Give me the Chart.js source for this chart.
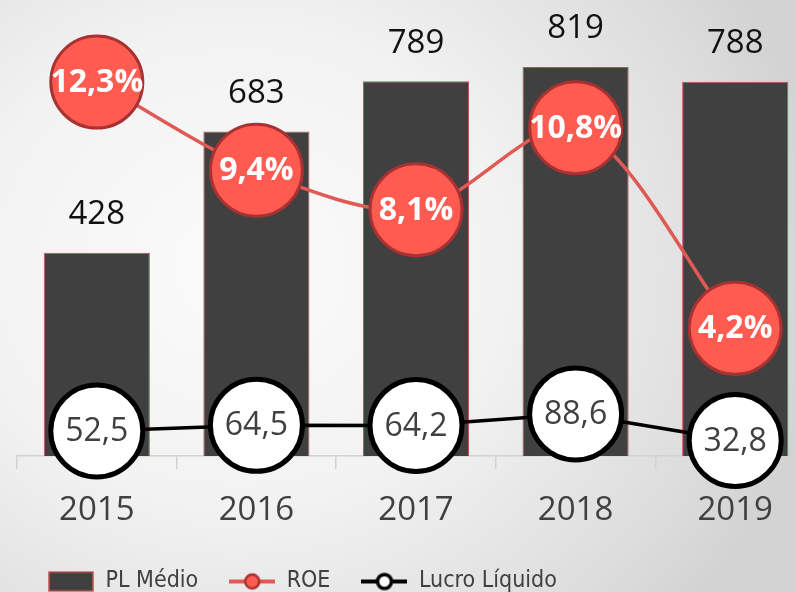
<!DOCTYPE html>
<html>
<head>
<meta charset="utf-8">
<script src="https://cdn.jsdelivr.net/npm/chart.js@4"></script>
<style>
  html, body { margin: 0; padding: 0; width: 795px; height: 592px; overflow: hidden; }
  body { background: radial-gradient(ellipse 75% 90% at 30% 45%, #fbfbfb 0%, #f2f2f2 45%, #dcdcdc 85%, #d2d2d2 100%); }
  #wrap { position: absolute; left: 0; top: 0; width: 830px; height: 603px; }
</style>
</head>
<body>
<div id="wrap"><canvas id="chart"></canvas></div>
<script>
// ========== data ==========
const years = ['2015', '2016', '2017', '2018', '2019']
const plMedio = [428, 683, 789, 819, 788]
const roe = [12.3, 9.4, 8.1, 10.8, 4.2]
const lucroLiquido = [52.5, 64.5, 64.2, 88.6, 32.8]

const fontMain = "'Open Sans', 'Noto Sans', sans-serif"
const fontLegend = "'Liberation Sans Narrow', 'DejaVu Sans Condensed', 'Open Sans', sans-serif"

// ========== legend icons ==========
function makeIcon(kind){
    const c = document.createElement('canvas')
    c.width = 46
    c.height = 22
    const g = c.getContext('2d')
    if (kind === 'bar') {
        g.fillStyle = '#404040'
        g.fillRect(1, 1.5, 44, 19)
        g.strokeStyle = '#c0504d'
        g.lineWidth = 1.5
        g.strokeRect(1, 1.5, 44, 19)
    } else {
        g.strokeStyle = kind === 'roe' ? '#e05a55' : '#000'
        g.lineWidth = 4
        g.beginPath(); g.moveTo(0, 11); g.lineTo(46, 11); g.stroke()
        g.beginPath(); g.arc(23, 11, 7, 0, Math.PI * 2)
        g.fillStyle = kind === 'roe' ? '#ff5b51' : '#fff'
        g.fill()
        g.lineWidth = kind === 'roe' ? 2.5 : 3.5
        g.strokeStyle = kind === 'roe' ? '#a83232' : '#000'
        g.stroke()
    }
    return c
}
const icons = [makeIcon('bar'), makeIcon('roe'), makeIcon('lucro')]

const fmt = (v, d) => v.toFixed(d).replace('.', ',')

// ========== labels plugin ==========
const labelsPlugin = {
    id: 'labels',
    afterDatasetDraw(chart, args) {
        const ctx = chart.ctx
        const meta = args.meta
        if (meta.type !== 'bar') return
        ctx.save()
        ctx.font = `33px ${fontMain}`
        ctx.fillStyle = '#111'
        ctx.textAlign = 'center'
        ctx.textBaseline = 'middle'
        meta.data.forEach((bar, i) => {
            ctx.fillText(plMedio[i], bar.x, bar.y - 38)
        })
        ctx.restore()
    },
    afterDatasetsDraw(chart) {
        const ctx = chart.ctx
        ctx.save()
        ctx.textAlign = 'center'
        ctx.textBaseline = 'middle'
        chart.getDatasetMeta(1).data.forEach((p, i) => {
            ctx.font = `bold 32px ${fontMain}`
            ctx.fillStyle = '#fff'
            ctx.fillText(fmt(roe[i], 1) + '%', p.x, p.y + 1)
        })
        chart.getDatasetMeta(2).data.forEach((p, i) => {
            ctx.font = `32px ${fontMain}`
            ctx.fillStyle = '#404040'
            ctx.fillText(fmt(lucroLiquido[i], 1), p.x, p.y + 1)
        })
        ctx.restore()
    }
}

const ctx = document.getElementById('chart').getContext('2d')
new Chart(ctx, {
    type: 'bar',
    data: {
        labels: years,
        datasets: [
            {
                type: 'bar',
                label: 'PL Médio',
                data: plMedio,
                yAxisID: 'y',
                backgroundColor: '#404040',
                borderColor: '#c0504d',
                borderWidth: 1,
                categoryPercentage: 1,
                barPercentage: 0.665,
                order: 3
            },
            {
                type: 'line',
                label: 'ROE',
                data: roe,
                yAxisID: 'y1',
                borderColor: '#e05a55',
                borderWidth: 3.5,
                tension: 0.3,
                pointRadius: 46,
                pointHoverRadius: 46,
                pointBackgroundColor: '#ff5b51',
                pointBorderColor: '#a83232',
                pointBorderWidth: 3,
                clip: false,
                order: 1
            },
            {
                type: 'line',
                label: 'Lucro Líquido',
                data: lucroLiquido,
                yAxisID: 'y',
                borderColor: '#000',
                borderWidth: 3.5,
                tension: 0,
                pointRadius: 46,
                pointHoverRadius: 46,
                pointBackgroundColor: '#fff',
                pointBorderColor: '#000',
                pointBorderWidth: 5,
                clip: false,
                order: 2
            }
        ]
    },
    options: {
        responsive: true,
        maintainAspectRatio: false,
        animation: false,
        layout: { autoPadding: false, padding: { left: 17, right: 15, top: 0, bottom: 0 } },
        plugins: {
            tooltip: { enabled: false },
            legend: {
                position: 'bottom',
                align: 'start',
                labels: {
                    usePointStyle: true,
                    pointStyleWidth: 46,
                    padding: 31,
                    color: '#404040',
                    font: { family: fontLegend, size: 23 },
                    generateLabels: (chart) => chart.data.datasets.map((ds, i) => ({
                        text: ds.label,
                        pointStyle: icons[i],
                        fontColor: '#404040',
                        lineWidth: 0,
                        datasetIndex: i
                    }))
                }
            }
        },
        scales: {
            x: {
                offset: true,
                grid: {
                    offset: true,
                    drawOnChartArea: false,
                    drawTicks: true,
                    tickLength: 13,
                    color: '#d2d2d2',
                    lineWidth: 1.5
                },
                border: { display: true, color: '#d2d2d2', width: 1.5 },
                ticks: {
                    color: '#404040',
                    font: { family: fontMain, size: 33 },
                    padding: 22
                },
                afterFit(scale) { scale.height = 83 }
            },
            y: { display: false, min: 0, max: 960 },
            y1: { display: false, min: 0, max: 15 }
        }
    },
    plugins: [labelsPlugin]
})
</script>
</body>
</html>
